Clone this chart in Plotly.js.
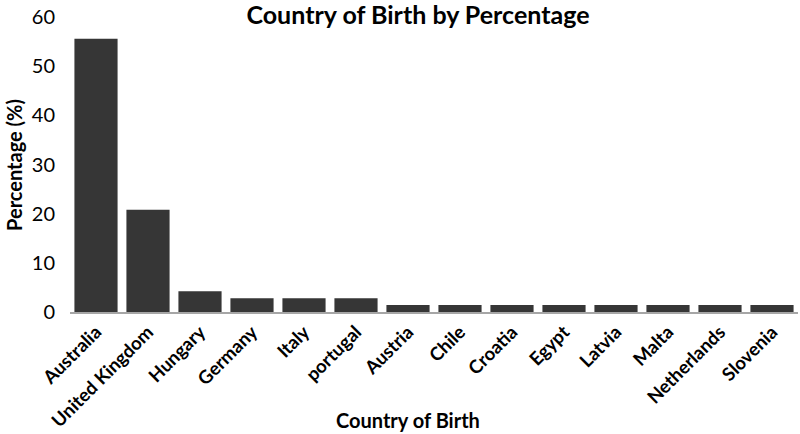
<!DOCTYPE html>
<html>
<head>
<meta charset="utf-8">
<script src="https://cdn.plot.ly/plotly-3.0.1.min.js"></script>
<style>html,body{margin:0;padding:0;background:#fff;}#chart{width:800px;height:434px;}</style>
</head>
<body>
<div id="chart"></div>
<script>
const countries = ["Australia","United Kingdom","Hungary","Germany","Italy","portugal","Austria","Chile","Croatia","Egypt","Latvia","Malta","Netherlands","Slovenia"];
const percentages = [55.6,20.8,4.2,2.8,2.8,2.8,1.4,1.4,1.4,1.4,1.4,1.4,1.4,1.4];
const yTicks = [0,10,20,30,40,50,60];

const FONT = "Lato, 'Open Sans', sans-serif";

Plotly.newPlot("chart", [{
  type: "bar",
  x: countries,
  y: percentages,
  marker: {color: "#363636", line: {width: 0}},
  hoverinfo: "x+y"
}], {
  width: 800, height: 434,
  margin: {l: 70, r: 2, t: 17, b: 122},
  paper_bgcolor: "#fff", plot_bgcolor: "#fff",
  bargap: 0.17,
  showlegend: false,
  title: {text: "<b>Country of Birth by Percentage</b>", font: {family: FONT, size: 25, color: "#000"}, x: 0.5225, xanchor: "center", y: 0.965, yanchor: "middle"},
  xaxis: {
    tickangle: -45,
    tickfont: {family: FONT, size: 18.5, color: "#000", weight: "bold"},
    showline: true, linecolor: "#a6a6a6", linewidth: 2,
    ticks: "", showgrid: false, zeroline: false,
    fixedrange: true
  },
  yaxis: {
    range: [0, 60],
    tickvals: yTicks,
    tickfont: {family: FONT, size: 20, color: "#000"},
    ticklabelstandoff: 14,
    showline: false, showgrid: false, zeroline: false,
    ticks: "", ticklen: 0,
    fixedrange: true
  },
  annotations: [
    {text: "<b>Country of Birth</b>", xref: "paper", yref: "paper", x: (408-70)/728, y: (312-420)/295, xanchor: "center", yanchor: "middle", showarrow: false, font: {family: FONT, size: 20, color: "#000"}},
    {text: "<b>Percentage (%)</b>", xref: "paper", yref: "paper", x: -0.077, xanchor: "center", y: (312-165)/295, yanchor: "middle", textangle: -90, showarrow: false, font: {family: FONT, size: 20, color: "#000"}}
  ]
}, {displayModeBar: false, staticPlot: true});
</script>
</body>
</html>
